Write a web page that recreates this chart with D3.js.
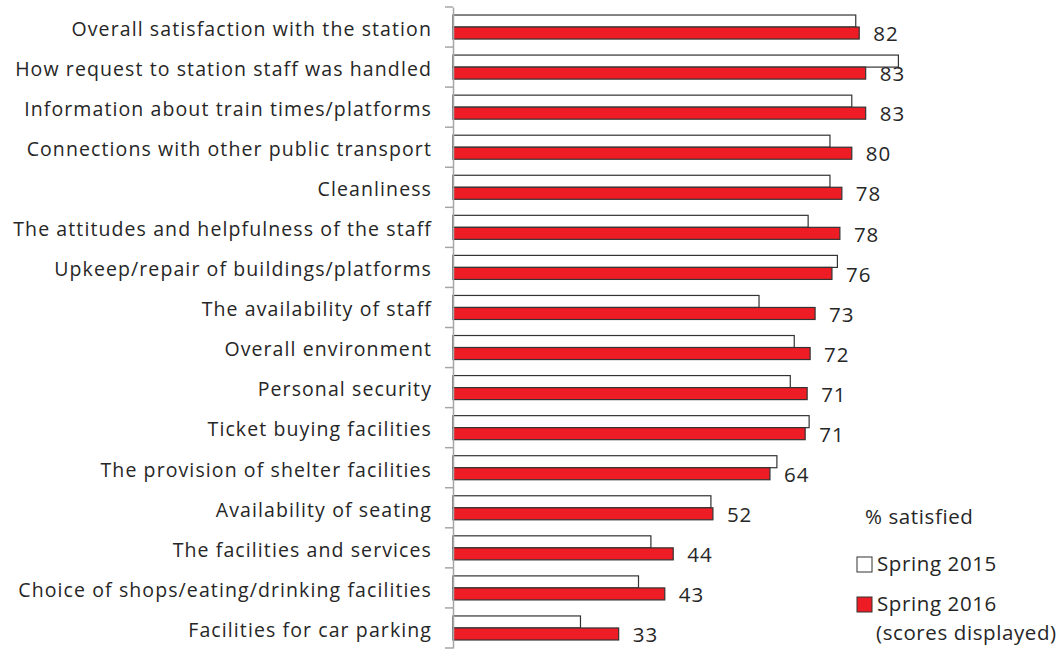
<!DOCTYPE html>
<html>
<head>
<meta charset="utf-8">
<title>Station satisfaction</title>
<script src="https://d3js.org/d3.v7.min.js"></script>
<style>
  body { margin: 0; background: #fff; }
  svg { font-family: "Open Sans", sans-serif; }
  .cat text { font-family: "Open Sans", sans-serif; font-size: 19.5px; letter-spacing: 1.1px; fill: #262626; }
  .val { font-size: 20.5px; letter-spacing: 1px; fill: #262626; }
  .legend text { font-size: 20.5px; letter-spacing: 0.6px; fill: #262626; }
</style>
</head>
<body>
<svg width="1063" height="666"></svg>
<script>
const categories = [
  "Overall satisfaction with the station",
  "How request to station staff was handled",
  "Information about train times/platforms",
  "Connections with other public transport",
  "Cleanliness",
  "The attitudes and helpfulness of the staff",
  "Upkeep/repair of buildings/platforms",
  "The availability of staff",
  "Overall environment",
  "Personal security",
  "Ticket buying facilities",
  "The provision of shelter facilities",
  "Availability of seating",
  "The facilities and services",
  "Choice of shops/eating/drinking facilities",
  "Facilities for car parking"
];
const spring2015 = [81.2, 89.8, 80.4, 76.0, 76.0, 71.6, 77.5, 61.7, 68.8, 68.0, 71.8, 65.3, 52.0, 39.9, 37.4, 25.7];
const spring2016 = [81.9, 83.2, 83.2, 80.4, 78.4, 78.0, 76.4, 73.0, 72.0, 71.4, 71.0, 63.9, 52.4, 44.4, 42.7, 33.4];
const seriesNames = ["Spring 2015", "Spring 2016"];

const data = categories.map((c, i) => ({ cat: c, s2015: spring2015[i], s2016: spring2016[i] }));

const svg = d3.select("svg");
const x0 = 453;

const x = d3.scaleLinear().domain([0, 100]).range([x0, x0 + 496]);
const y = d3.scaleBand().domain(categories).range([7, 648]).paddingInner(0);
const ySub = d3.scaleBand().domain(["s2015", "s2016"]).range([0, y.bandwidth()])
  .paddingInner(0).paddingOuter(0.667);

const fills = { s2015: "#ffffff", s2016: "#ee1c25" };

// bars
const rows = svg.append("g").selectAll("g")
  .data(data)
  .join("g")
  .attr("transform", d => `translate(0,${y(d.cat)})`);

["s2015", "s2016"].forEach(k => {
  rows.append("rect")
    .attr("x", x(0))
    .attr("y", ySub(k))
    .attr("width", d => x(d[k]) - x(0))
    .attr("height", ySub.bandwidth())
    .attr("fill", fills[k])
    .attr("stroke", "#333")
    .attr("stroke-width", 1.2);
});

// value labels (2016 only)
rows.append("text")
  .attr("class", "val")
  .attr("x", d => x(d.s2016) + 14)
  .attr("y", ySub("s2016") + ySub.bandwidth() / 2)
  .attr("dy", "0.4em")
  .text(d => d3.format(".0f")(d.s2016));

// category axis
const yAxis = d3.axisLeft(y).tickSize(0).tickPadding(21);
const ax = svg.append("g")
  .attr("class", "cat")
  .attr("transform", `translate(${x0},0)`)
  .call(yAxis);
ax.attr("font-family", null).attr("font-size", null);
ax.select(".domain").attr("stroke", "#a6a6a6").attr("stroke-width", 1.5);
ax.selectAll("text").attr("dy", "0.45em");

// ticks between categories
const bounds = categories.map(c => y(c)).concat([y.range()[1]]);
ax.selectAll(".sep")
  .data(bounds)
  .join("line")
  .attr("class", "sep")
  .attr("x1", -8).attr("x2", 0)
  .attr("y1", d => d).attr("y2", d => d)
  .attr("stroke", "#a6a6a6")
  .attr("stroke-width", 1.5);

// legend
const lg = svg.append("g").attr("class", "legend");
lg.append("text").attr("x", 865).attr("y", 524).text("% satisfied");
const lgItems = [
  { name: seriesNames[0], key: "s2015", y: 557 },
  { name: seriesNames[1], key: "s2016", y: 597 }
];
lgItems.forEach(it => {
  lg.append("rect")
    .attr("x", 857).attr("y", it.y)
    .attr("width", 15).attr("height", 15)
    .attr("fill", fills[it.key])
    .attr("stroke", "#333").attr("stroke-width", 1);
  lg.append("text").attr("x", 877).attr("y", it.y + 14).text(it.name);
});
lg.append("text").attr("x", 876).attr("y", 640).text("(scores displayed)");
</script>
</body>
</html>
